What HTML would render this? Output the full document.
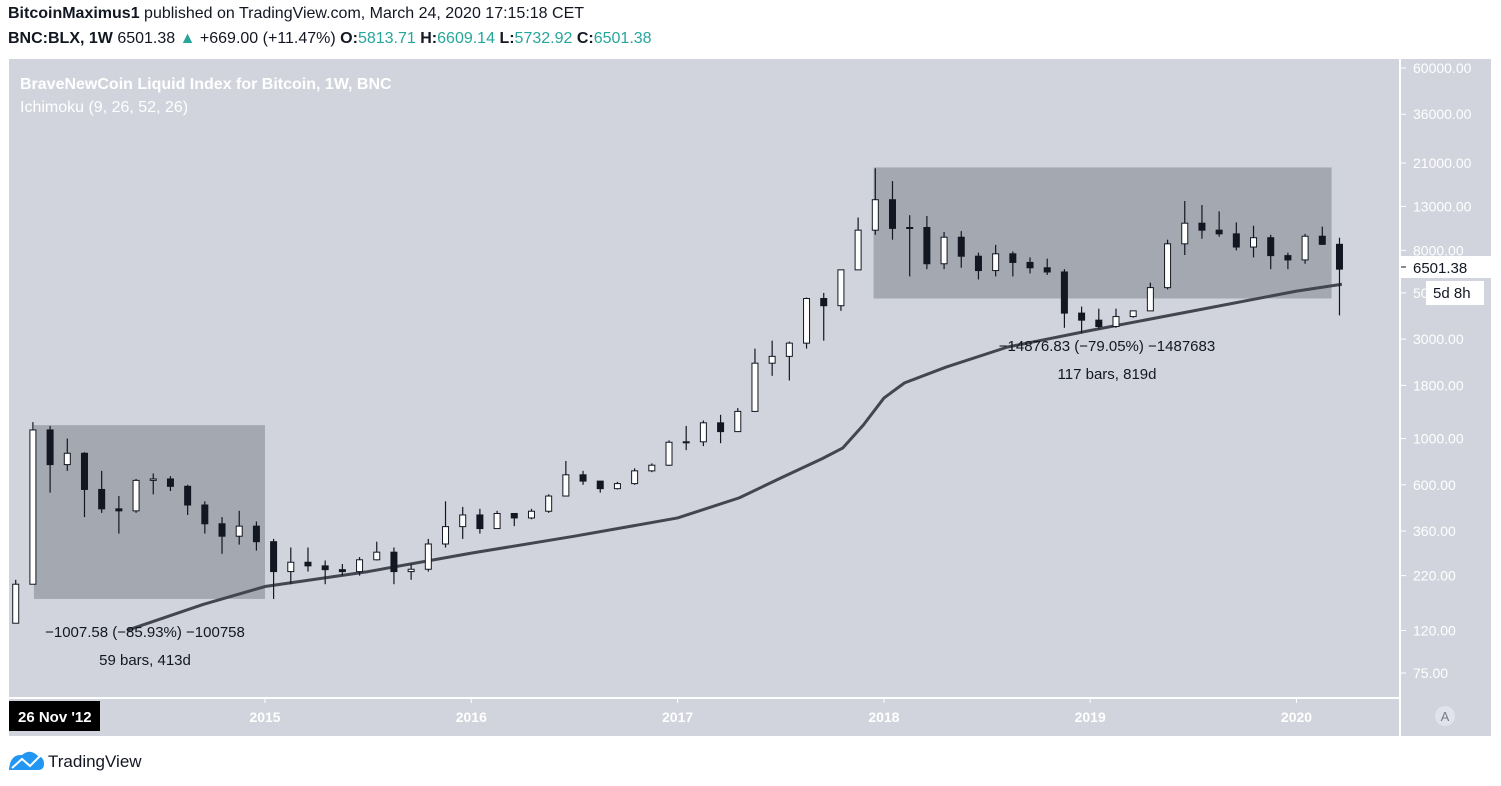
<!DOCTYPE html>
<html><head><meta charset="utf-8"><style>
body{margin:0;width:1501px;height:786px;background:#fff;font-family:"Liberation Sans",sans-serif;overflow:hidden;position:relative}
.t{position:absolute;white-space:nowrap}
</style></head><body>
<div class="t" style="left:8px;top:5px;font-size:16px;color:#131722"><b>BitcoinMaximus1</b> published on TradingView.com, March 24, 2020 17:15:18 CET</div>
<div class="t" style="left:8px;top:30px;font-size:16px;color:#131722"><b>BNC:BLX, 1W</b> 6501.38 <span style="color:#26a69a">▲</span> +669.00 (+11.47%) <b>O:</b><span style="color:#26a69a">5813.71</span> <b>H:</b><span style="color:#26a69a">6609.14</span> <b>L:</b><span style="color:#26a69a">5732.92</span> <b>C:</b><span style="color:#26a69a">6501.38</span></div>
<svg width="1501" height="786" style="position:absolute;left:0;top:0" id="svg"></svg>
<script>
const closes=[200,1100,750,850,570,460,450,630,640,590,480,390,340,380,320,230,255,245,235,230,262,285,230,236,312,378,430,370,437,416,448,530,670,625,575,608,700,745,960,965,1190,1080,1350,2300,2480,2870,4700,4340,6450,10000,14000,10200,10300,6900,9250,7500,6400,7700,7000,6600,6300,4000,3700,3450,3850,4100,5300,8600,10800,10000,9600,8300,9200,7550,7200,9350,8550,6501];
const highs=[210,1200,1150,1000,860,700,530,640,680,660,600,500,420,450,400,330,300,300,260,250,270,320,300,250,330,500,470,460,450,430,460,540,780,700,620,620,720,760,980,1150,1220,1300,1400,2700,2950,2920,4750,5000,6300,11500,19800,17200,11800,11700,9800,9900,7800,8500,7900,7400,7300,6500,4300,4200,4200,4100,5600,9000,13800,13200,12300,10900,10500,9500,7800,9600,10400,9200];
const lows=[130,200,550,700,420,440,350,440,540,560,430,350,280,310,290,170,200,230,200,220,220,260,200,210,230,300,330,350,370,380,410,440,530,600,550,570,600,690,740,880,920,950,1100,1350,2000,1900,2700,2950,4100,6500,9500,9000,6000,6500,6500,6600,5800,6000,6000,6200,6100,3400,3200,3350,3400,3800,4100,5200,7600,9100,9300,8000,7400,6500,6500,6900,8500,3900];
const maYears=[2014.33,2014.7,2015,2015.5,2016,2016.5,2017,2017.3,2017.5,2017.7,2017.8,2017.9,2018,2018.1,2018.3,2018.6,2019,2019.5,2020,2020.22];
const maVals=[120,160,195,230,282,340,416,520,647,800,900,1160,1565,1850,2200,2750,3300,4100,5100,5500];
const rects=[[2013.88,2015.0,1160,170],[2017.95,2020.17,20000,4700]];
const yTicks=[60000,36000,21000,13000,8000,5000,3000,1800,1000,600,360,220,120,75];
const xTicks=[2015,2016,2017,2018,2019,2020];
const NS='http://www.w3.org/2000/svg',svg=document.getElementById('svg');
const X=t=>265+(t-2015)*206.3;
const Y=p=>68+(Math.log10(60000)-Math.log10(p))*208.4;
function el(tag,a,parent){const e=document.createElementNS(NS,tag);for(const k in a)e.setAttribute(k,a[k]);(parent||svg).appendChild(e);return e;}
let e;
e=el('rect',{x:9,y:59,width:1482,height:677,fill:'#d1d4dc'});


el('line',{x1:1400,y1:59,x2:1400,y2:736,stroke:'#fff','stroke-width':2});
el('line',{x1:9,y1:698,x2:1400,y2:698,stroke:'#fff','stroke-width':2});
function txt(x,y,s,a){const t=el('text',Object.assign({x:x,y:y,'font-size':14,'font-family':'Liberation Sans, sans-serif'},a||{}));t.textContent=s;return t;}
e=txt(20,89,'BraveNewCoin Liquid Index for Bitcoin, 1W, BNC',{fill:'#fff','font-size':16,'font-weight':'bold'});


e=txt(20,112,'Ichimoku (9, 26, 52, 26)',{fill:'#fff','font-size':16});


yTicks.forEach(v=>{const y=Y(v);el('line',{x1:1401,y1:y,x2:1406,y2:y,stroke:'#fff'});
e=txt(1413,y+5,v.toFixed(2),{fill:'#fff','font-size':14});

});
xTicks.forEach(v=>{const x=X(v);el('line',{x1:x,y1:698,x2:x,y2:703,stroke:'#fff'});
e=txt(x,722,String(v),{fill:'#fff','font-size':14,'font-weight':'bold','text-anchor':'middle'});

});
rects.forEach(r=>{e=el('rect',{x:X(r[0]),y:Y(r[2]),width:X(r[1])-X(r[0]),height:Y(r[3])-Y(r[2]),fill:'#787b86','fill-opacity':0.5});

});
let d='';maYears.forEach((t,i)=>{d+=(i?'L':'M')+X(t)+','+Y(maVals[i]);});
e=el('path',{d:d,fill:'none',stroke:'#434651','stroke-width':3,'stroke-linejoin':'round'});


closes.forEach((c,i)=>{const t=2013+9/12+(i+0.5)/12;const x=X(t);const o=i?closes[i-1]:130;
el('line',{x1:x,y1:Y(highs[i]),x2:x,y2:Y(lows[i]),stroke:'#131722','stroke-width':1.2});
const top=Y(Math.max(o,c)),bot=Y(Math.min(o,c));
e=el('rect',{x:x-3,y:top,width:6,height:Math.max(1,bot-top),fill:c>=o?'#fff':'#131722',stroke:'#131722','stroke-width':1});

});
[['−1007.58 (−85.93%) −100758',145,637],['59 bars, 413d',145,665],['−14876.83 (−79.05%) −1487683',1107,351],['117 bars, 819d',1107,379]].forEach(a=>{e=txt(a[1],a[2],a[0],{fill:'#131722','font-size':15,'text-anchor':'middle'});

});
e=el('rect',{x:1401,y:256,width:90,height:22,fill:'#fff'});


txt(1413,273,'6501.38',{fill:'#131722','font-size':15});
el('line',{x1:1401,y1:267,x2:1406,y2:267,stroke:'#131722'});
el('rect',{x:1426,y:281,width:58,height:24,fill:'#fff'});
txt(1433,298,'5d 8h',{fill:'#131722','font-size':15});
e=el('rect',{x:9,y:701,width:91,height:30,fill:'#000'});


txt(18,722,"26 Nov '12",{fill:'#fff','font-size':15,'font-weight':'bold'});
el('circle',{cx:1445,cy:716,r:10,fill:'#e0e3eb'});
txt(1445,721,'A',{fill:'#787b86','font-size':13,'text-anchor':'middle'});
e=el('path',{d:'M9,770 Q10,754 22,755 Q30,748 38,756 Q44,757 44,764 Q44,770 38,770 Z',fill:'#2196f3'});


el('path',{d:'M12,768 L22,759 L30,766 L40,756',fill:'none',stroke:'#fff','stroke-width':2});
txt(48,767,'TradingView',{fill:'#131722','font-size':17});
</script>
</body></html>
